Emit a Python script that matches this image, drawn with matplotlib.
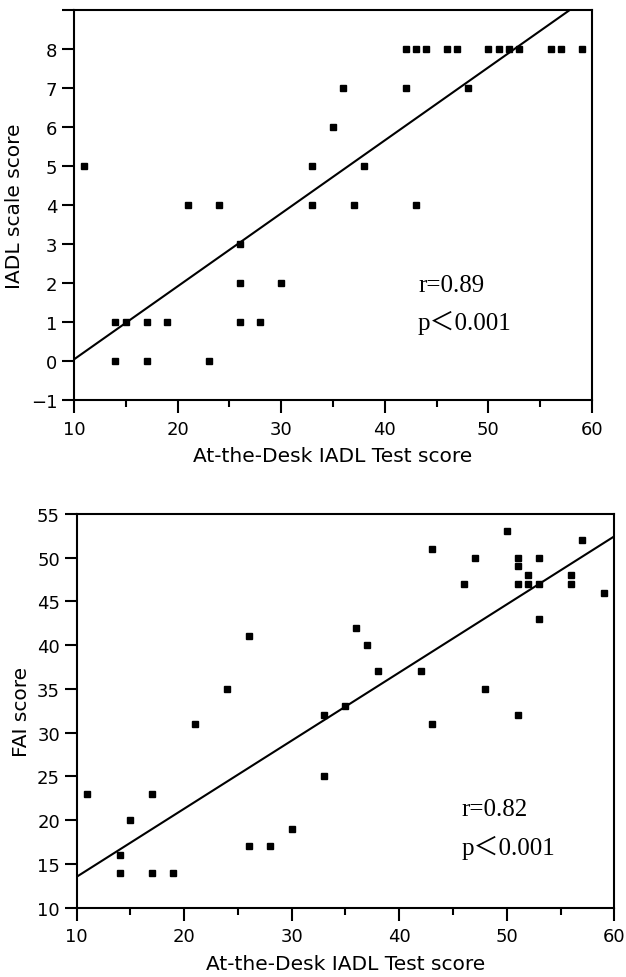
import matplotlib
matplotlib.use('Agg')
import matplotlib.pyplot as plt
import numpy as np
from matplotlib.ticker import MultipleLocator

# --- dados ---

# Grafico 1: IADL scale score vs At-the-Desk IADL Test score
desk_iadl = [11, 14, 15, 17, 19, 14, 17, 23, 21, 24, 26, 26, 26, 28, 30, 33, 33, 35,
             36, 37, 38, 42, 43, 48, 42, 43, 44, 46, 47, 50, 51, 52, 53, 56, 57, 59]
iadl_scale = [5, 1, 1, 1, 1, 0, 0, 0, 4, 4, 3, 2, 1, 1, 2, 5, 4, 6,
              7, 4, 5, 7, 4, 7, 8, 8, 8, 8, 8, 8, 8, 8, 8, 8, 8, 8]

# Grafico 2: FAI score vs At-the-Desk IADL Test score
desk_fai = [11, 17, 15, 14, 14, 17, 19, 21, 24, 26, 26, 28, 30, 33, 33, 35, 36, 37, 38,
            42, 43, 43, 46, 47, 48, 50, 51, 51, 51, 51, 52, 52, 53, 53, 53, 56, 56, 57, 59]
fai_score = [23, 23, 20, 16, 14, 14, 14, 31, 35, 41, 17, 17, 19, 32, 25, 33, 42, 40, 37,
             37, 51, 31, 47, 50, 35, 53, 50, 49, 47, 32, 48, 47, 47, 50, 43, 48, 47, 52, 46]

# retas de regressao (inclinacao, intercepto)
fit_iadl = [0.187, -1.82]
fit_fai = [0.778, 5.76]

iadl_ticks = [-1, 0, 1, 2, 3, 4, 5, 6, 7, 8, 9]
iadl_tick_labels = ['\u22121', '0', '1', '2', '3', '4', '5', '6', '7', '8', '']
fai_ticks = [10, 15, 20, 25, 30, 35, 40, 45, 50, 55]
x_ticks = [10, 20, 30, 40, 50, 60]

stats_iadl = ['r=0.89', 'p\uff1c0.001']
stats_fai = ['r=0.82', 'p\uff1c0.001']

serif = ['Liberation Serif', 'Noto Sans CJK JP']

fig = plt.figure(figsize=(6.26, 9.78), dpi=100)
ax1 = fig.add_axes([0.1182, 0.5896, 0.8275, 0.3992])
ax2 = fig.add_axes([0.1225, 0.0708, 0.8588, 0.4027])


def style_axis(ax):
    for sp in ax.spines.values():
        sp.set_linewidth(1.5)
    ax.tick_params(which='major', direction='out', length=9, width=1.5,
                   labelsize=13, pad=5)
    ax.tick_params(axis='y', which='major', pad=3)
    ax.xaxis.set_minor_locator(MultipleLocator(5))
    ax.tick_params(axis='x', which='minor', direction='out', length=5, width=1.5)
    ax.tick_params(axis='y', which='minor', left=False)


def draw_fit(ax, coef):
    p = np.poly1d(coef)
    xs = np.linspace(10, 60, 100)
    ax.plot(xs, p(xs), 'k-', linewidth=1.5)


# --- grafico 1 ---
draw_fit(ax1, fit_iadl)
ax1.plot(desk_iadl, iadl_scale, 'ks', markersize=4.8)
ax1.set_xlim(10, 60)
ax1.set_ylim(-1, 9)
ax1.set_xticks(x_ticks)
ax1.set_yticks(iadl_ticks)
ax1.set_yticklabels(iadl_tick_labels)
style_axis(ax1)
ax1.set_xlabel('At-the-Desk IADL Test score', fontsize=14.5, labelpad=6)
ax1.set_ylabel('IADL scale score', fontsize=14.5, labelpad=5)
ax1.text(0.664, 0.281, stats_iadl[0], transform=ax1.transAxes, fontsize=18, family=serif)
ax1.text(0.664, 0.183, stats_iadl[1], transform=ax1.transAxes, fontsize=18, family=serif)

# --- grafico 2 ---
draw_fit(ax2, fit_fai)
ax2.plot(desk_fai, fai_score, 'ks', markersize=4.8)
ax2.set_xlim(10, 60)
ax2.set_ylim(10, 55)
ax2.set_xticks(x_ticks)
ax2.set_yticks(fai_ticks)
style_axis(ax2)
ax2.set_xlabel('At-the-Desk IADL Test score', fontsize=14.5, labelpad=6)
ax2.set_ylabel('FAI score', fontsize=14.5, labelpad=4)
ax2.text(0.716, 0.236, stats_fai[0], transform=ax2.transAxes, fontsize=18, family=serif)
ax2.text(0.716, 0.137, stats_fai[1], transform=ax2.transAxes, fontsize=18, family=serif)

plt.savefig('out.png', dpi=100)
